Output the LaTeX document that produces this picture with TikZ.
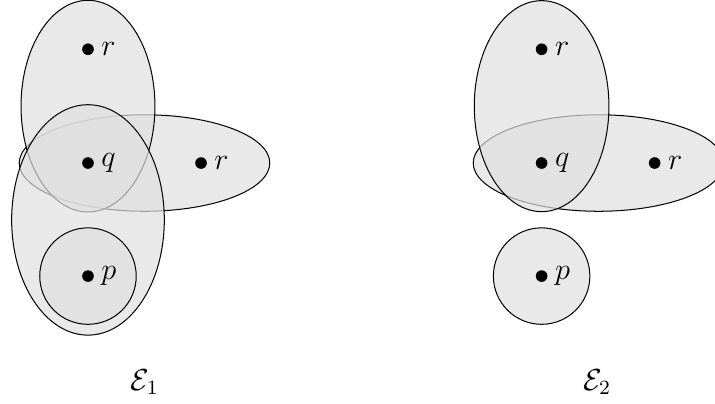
\documentclass[tikz,border=0pt]{standalone}
\usepackage{amsmath, amssymb}
\usepackage{tikz}
\usetikzlibrary{positioning}

\tikzset{
  edgeset/.style={draw=black, fill=gray!25, fill opacity=0.7},
  vertex/.style={circle, fill=black, inner sep=0pt, minimum size=4.6pt},
  every label/.style={font=\large, inner sep=2.6pt},
}

\begin{document}
\begin{tikzpicture}[every node/.style={font=\large}]
\useasboundingbox (-1.222,-3.333) rectangle (8.708,2.264);

% ── Hypergraph E_1 ──────────────────────────────────────────────
\draw[edgeset] (0.785,0) ellipse (1.74cm and 0.67cm);
\draw[edgeset] (0,0.79) ellipse (0.93cm and 1.47cm);
\draw[edgeset] (0,-0.79) ellipse (1.06cm and 1.60cm);
\draw[edgeset] (0,-1.57) circle (0.67cm);

\node[vertex, label={right:$r$}] (r1a) at (0,1.58) {};
\node[vertex, label={right:$q$}] (q1) at (0,0) {};
\node[vertex, label={right:$r$}] (r1b) at (1.57,0) {};
\node[vertex, label={right:$p$}] (p1) at (0,-1.57) {};
\node (E1) at (0.79,-3.04) {$\mathcal{E}_1$};

% ── Hypergraph E_2 ──────────────────────────────────────────────
\begin{scope}[shift={(6.30,0)}]
\draw[edgeset] (0.79,0) ellipse (1.74cm and 0.67cm);
\draw[edgeset] (0,0.79) ellipse (0.935cm and 1.465cm);
\draw[edgeset] (0,-1.57) circle (0.67cm);

\node[vertex, label={right:$r$}] (r2a) at (0,1.58) {};
\node[vertex, label={right:$q$}] (q2) at (0,0) {};
\node[vertex, label={right:$r$}] (r2b) at (1.57,0) {};
\node[vertex, label={right:$p$}] (p2) at (0,-1.57) {};
\node (E2) at (0.77,-3.04) {$\mathcal{E}_2$};
\end{scope}

\end{tikzpicture}
\end{document}
